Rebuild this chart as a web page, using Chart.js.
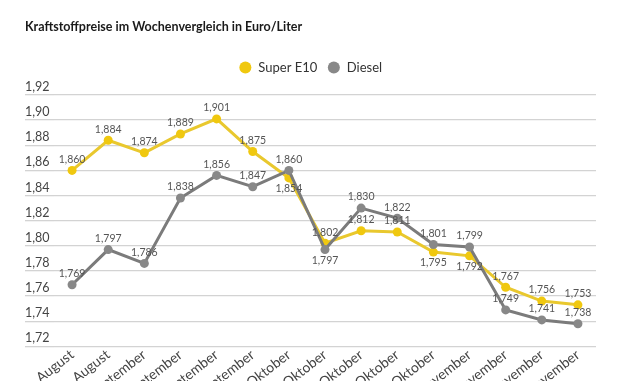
<!DOCTYPE html>
<html><head><meta charset="utf-8">
<script src="https://cdn.jsdelivr.net/npm/chart.js@4"></script>
<style>html,body{margin:0;padding:0;overflow:hidden;background:#fff}#wrap{width:630px;height:415px;position:relative}</style>
</head><body><div id="wrap"><canvas id="c"></canvas></div>
<script>
const chartTitle = 'Kraftstoffpreise im Wochenvergleich in Euro/Liter';
const categories = ['22. August','29. August','5. September','12. September','19. September','26. September','3. Oktober','10. Oktober','17. Oktober','24. Oktober','31. Oktober','7. November','14. November','21. November','28. November'];
const seriesNames = ['Super E10','Diesel'];
const superE10 = [1.860,1.884,1.874,1.889,1.901,1.875,1.854,1.802,1.812,1.811,1.795,1.792,1.767,1.756,1.753];
const diesel = [1.769,1.797,1.786,1.838,1.856,1.847,1.860,1.797,1.830,1.822,1.801,1.799,1.749,1.741,1.738];
const yTicks = [1.72,1.74,1.76,1.78,1.80,1.82,1.84,1.86,1.88,1.90,1.92];

const FONT = 'Lato';
const YELLOW = '#f0c80f', YELLOW_LINE = '#e9c82e';
const GREY = '#888888', GREY_LINE = '#7b7b7b';
const fmt = (v, d) => v.toFixed(d).replace('.', ',');

const labelPlugin = {
  id: 'valueLabels',
  afterDatasetsDraw(chart, args, opts) {
    const ctx = chart.ctx;
    ctx.save();
    ctx.font = '10.5px ' + FONT;
    ctx.fillStyle = '#555';
    ctx.textAlign = 'center';
    ctx.textBaseline = 'middle';
    chart.data.datasets.forEach((ds, di) => {
      const meta = chart.getDatasetMeta(di);
      const below = opts.below[di] || [];
      meta.data.forEach((pt, i) => {
        const dy = below.includes(i) ? 11 : -11;
        ctx.fillText(fmt(ds.data[i], 3), pt.x, pt.y + dy);
      });
    });
    ctx.restore();
  }
};

const legendSpace = {
  id: 'legendSpace',
  beforeInit(chart) {
    const orig = chart.legend.fit;
    chart.legend.fit = function () { orig.call(this); this.height += 11; };
  }
};

new Chart(document.getElementById('c'), {
  type: 'line',
  data: {
    labels: categories,
    datasets: [
      { label: seriesNames[0], data: superE10, order: 1, borderColor: YELLOW_LINE, backgroundColor: YELLOW,
        pointBackgroundColor: YELLOW, pointBorderWidth: 0, pointRadius: 4.5, borderWidth: 3, tension: 0 },
      { label: seriesNames[1], data: diesel, order: 0, borderColor: GREY_LINE, backgroundColor: GREY,
        pointBackgroundColor: GREY, pointBorderWidth: 0, pointRadius: 4.5, borderWidth: 3, tension: 0 }
    ]
  },
  plugins: [labelPlugin, legendSpace],
  options: {
    responsive: true,
    maintainAspectRatio: false,
    animation: false,
    events: [],
    layout: { padding: { left: 25, right: 34, top: 0, bottom: 0 } },
    plugins: {
      title: { display: true, text: chartTitle, align: 'start', color: '#1a1a1a',
        font: { family: FONT, size: 12.5, weight: 'bold' }, padding: { top: 19, bottom: 17 } },
      legend: { display: true, position: 'top',
        labels: { usePointStyle: true, pointStyle: 'circle', boxWidth: 13, boxHeight: 8.5, padding: 10,
          color: '#333', font: { family: FONT, size: 13 },
          sort: (a, b) => a.datasetIndex - b.datasetIndex } },
      tooltip: { enabled: false },
      valueLabels: { below: [[6, 10, 11], [7]] }
    },
    scales: {
      x: {
        offset: true,
        grid: { display: false, drawTicks: false },
        border: { display: false },
        ticks: { color: '#444', font: { family: FONT, size: 14 }, minRotation: 38, maxRotation: 38, autoSkip: false, padding: 0 }
      },
      y: {
        min: 1.72, max: 1.92,
        afterBuildTicks: (s) => { s.ticks = yTicks.map(v => ({ value: v })); },
        afterFit: (s) => { s.width = 29; },
        border: { display: false },
        grid: { color: '#d3d3d3', lineWidth: 1.3, drawTicks: true, tickLength: 29, tickColor: '#d3d3d3' },
        ticks: { crossAlign: 'far', labelOffset: -8, padding: 0, color: '#444',
          font: { family: FONT, size: 12.5 }, callback: (v) => fmt(v, 2) }
      }
    }
  }
});
</script>
</body></html>
